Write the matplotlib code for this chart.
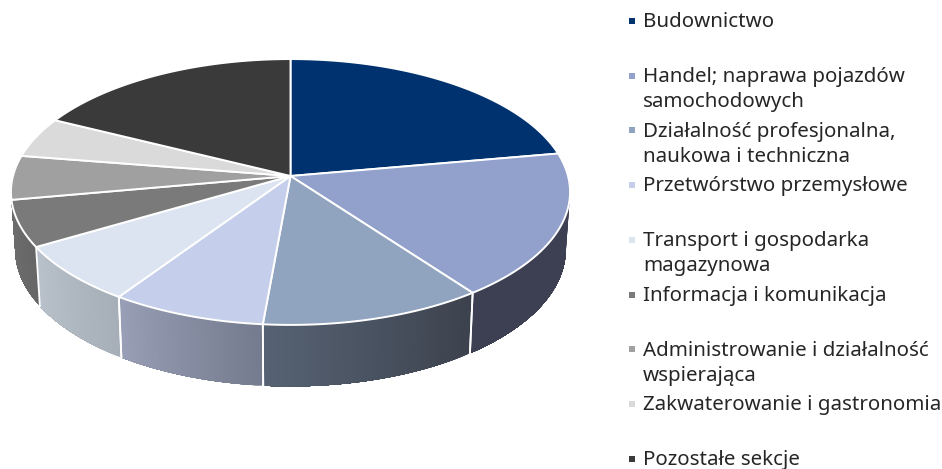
import numpy as np
import matplotlib
matplotlib.use('Agg')
import matplotlib.pyplot as plt

labels = ['Budownictwo', 'Handel; naprawa pojazdów\nsamochodowych',
          'Działalność profesjonalna,\nnaukowa i techniczna', 'Przetwórstwo przemysłowe',
          'Transport i gospodarka\nmagazynowa', 'Informacja i komunikacja',
          'Administrowanie i działalność\nwspierająca', 'Zakwaterowanie i gastronomia',
          'Pozostałe sekcje']
values = [22.2, 17.7, 11.5, 8.0, 7.1, 5.65, 5.35, 4.9, 17.6]

top_colors = ['#00326F', '#92A1CC', '#91A4BF', '#C5CEEB', '#DBE4F0',
              '#7A7A7A', '#A0A0A0', '#DADADA', '#3A3A3A']
wall_left = [None, '#3D3F52', '#566273', '#989FB6', '#B9C2CB', '#6E6E6E', None, None, None]
wall_right = [None, '#3D3F52', '#3C424D', '#757B8E', '#A6AFB8', '#666666', None, None, None]

# perspective of the disc, in pixels
cx, cy = 290.5, 176
rx, h, k = 277.5, 131, 0.1203

def top_pt(t):
    a, b = np.sin(t), -np.cos(t)
    w = 1 - k*b
    return cx + rx*a/w, cy + h*b/w

def bottom_pt(t):
    x, y = top_pt(t)
    return cx + 0.985*(x - cx), cy + 57 + 1.03*(y - cy)

fig = plt.figure(figsize=(9.42, 4.69), dpi=100)
ax = fig.add_axes([0, 0, 1, 1])
ax.set_xlim(0, 942)
ax.set_ylim(469, 0)
ax.axis('off')

edges = 2*np.pi*np.cumsum([0] + values)/sum(values)

# side walls, each step painted over the rest of the slice so no seams show
for i in range(len(values)):
    if wall_left[i] is None:
        continue
    t = np.linspace(edges[i], edges[i+1], 61)
    c0 = np.array(matplotlib.colors.to_rgb(wall_left[i]))
    c1 = np.array(matplotlib.colors.to_rgb(wall_right[i]))
    for j in range(60):
        x0, y0 = top_pt(t[j:])
        x1, y1 = bottom_pt(t[j:])
        c = c1 + (c0 - c1)*j/59
        ax.fill(np.r_[x0, x1[::-1]], np.r_[y0, y1[::-1]], color=c, lw=0, zorder=2)
    x0, y0 = top_pt(edges[i])
    x1, y1 = bottom_pt(edges[i])
    ax.plot([x0, x1], [y0, y1], color='white', lw=1.3, zorder=3)
    x0, y0 = top_pt(edges[i+1])
    x1, y1 = bottom_pt(edges[i+1])
    if i < 4:
        ax.plot([x0, x1], [y0, y1], color='white', lw=1.3, zorder=3)

# top face
for i in range(len(values)):
    t = np.linspace(edges[i], edges[i+1], 80)
    x, y = top_pt(t)
    ax.fill(np.r_[cx, x], np.r_[cy, y], facecolor=top_colors[i], edgecolor='white',
            lw=1.4, joinstyle='round', zorder=4)

# legend
for i in range(len(labels)):
    yy = 21 + 54.75*i
    ax.plot([631.5], [yy], marker='s', ms=5, color=top_colors[i], mew=0, zorder=5)
    for n, line in enumerate(labels[i].split('\n')):
        ax.text(643, yy + 1 + n*25, line, fontsize=14.75, family='Noto Sans', color='#262626',
                va='center', ha='left')

fig.savefig('out.png', dpi=100)
